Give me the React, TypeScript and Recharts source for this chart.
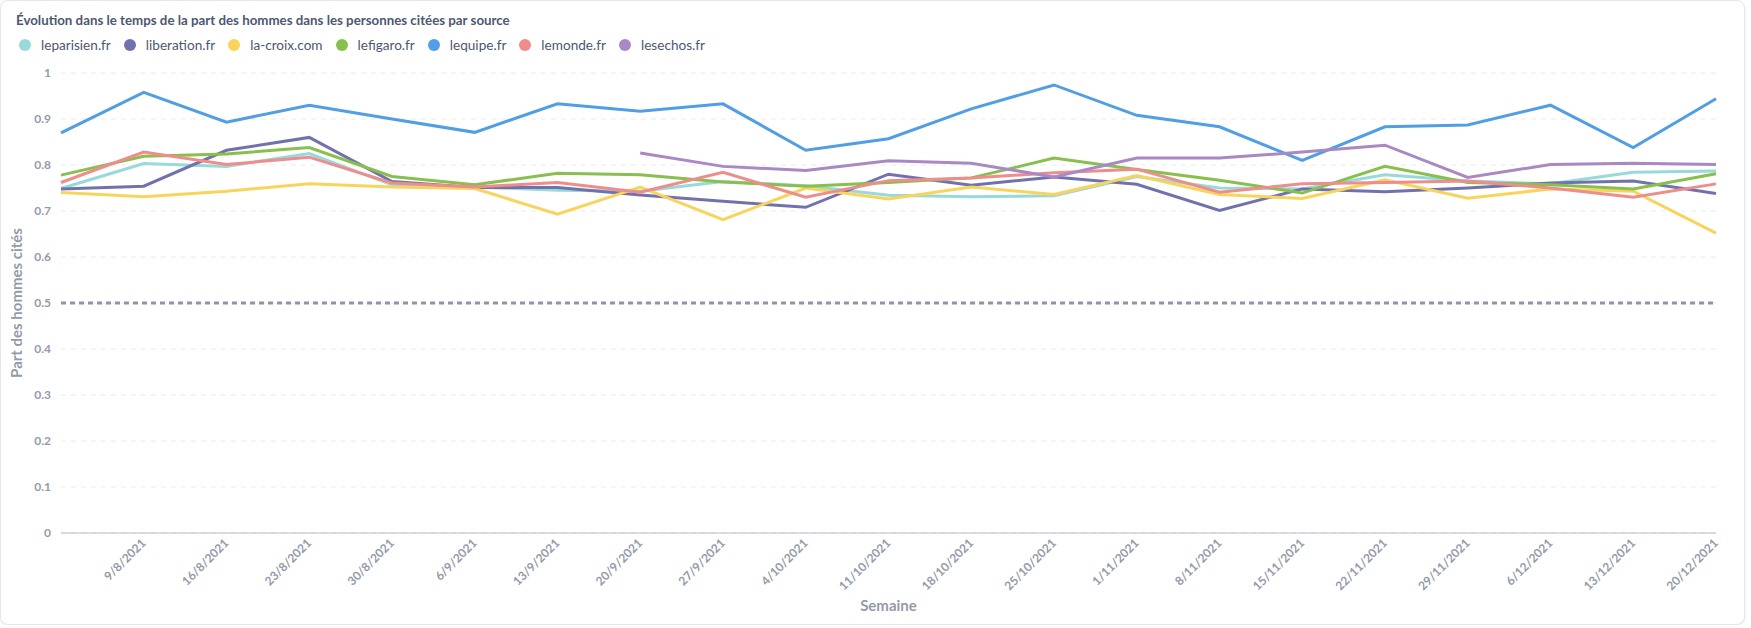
import React from 'react';
import { LineChart, Line, XAxis, YAxis, CartesianGrid, Legend, ReferenceLine } from 'recharts';

// semaines (la première n'a pas d'étiquette sur l'axe)
const weeks = [
  '2/8/2021', '9/8/2021', '16/8/2021', '23/8/2021', '30/8/2021', '6/9/2021', '13/9/2021',
  '20/9/2021', '27/9/2021', '4/10/2021', '11/10/2021', '18/10/2021', '25/10/2021', '1/11/2021',
  '8/11/2021', '15/11/2021', '22/11/2021', '29/11/2021', '6/12/2021', '13/12/2021', '20/12/2021',
];

const leparisien = [0.749, 0.803, 0.797, 0.825, 0.757, 0.752, 0.745, 0.743, 0.764, 0.755, 0.734, 0.731, 0.733, 0.775, 0.750, 0.748, 0.779, 0.765, 0.759, 0.784, 0.787];
const liberation = [0.748, 0.754, 0.832, 0.860, 0.764, 0.751, 0.751, 0.735, 0.721, 0.708, 0.780, 0.756, 0.774, 0.758, 0.701, 0.748, 0.742, 0.750, 0.761, 0.765, 0.738];
const lacroix = [0.740, 0.731, 0.743, 0.759, 0.752, 0.749, 0.693, 0.752, 0.681, 0.750, 0.726, 0.752, 0.736, 0.777, 0.736, 0.727, 0.768, 0.728, 0.748, 0.743, 0.652];
const lefigaro = [0.778, 0.819, 0.824, 0.838, 0.775, 0.757, 0.782, 0.779, 0.763, 0.754, 0.762, 0.772, 0.815, 0.790, 0.767, 0.739, 0.797, 0.762, 0.757, 0.748, 0.781];
const lequipe = [0.870, 0.958, 0.893, 0.930, 0.900, 0.871, 0.933, 0.917, 0.933, 0.832, 0.857, 0.922, 0.974, 0.908, 0.883, 0.810, 0.883, 0.887, 0.930, 0.838, 0.944];
const lemonde = [0.762, 0.828, 0.801, 0.817, 0.761, 0.752, 0.762, 0.741, 0.784, 0.730, 0.766, 0.772, 0.783, 0.791, 0.741, 0.759, 0.762, 0.765, 0.750, 0.730, 0.759];
const lesechos = [null, null, null, null, null, null, null, 0.826, 0.797, 0.788, 0.809, 0.804, 0.774, 0.815, 0.815, 0.828, 0.843, 0.773, 0.801, 0.804, 0.801];

const sourceKeys = ['leparisien', 'liberation', 'lacroix', 'lefigaro', 'lequipe', 'lemonde', 'lesechos'];
const sourceNames = ['leparisien.fr', 'liberation.fr', 'la-croix.com', 'lefigaro.fr', 'lequipe.fr', 'lemonde.fr', 'lesechos.fr'];
const sourceValues = [leparisien, liberation, lacroix, lefigaro, lequipe, lemonde, lesechos];

const yTicks = [0, 0.1, 0.2, 0.3, 0.4, 0.5, 0.6, 0.7, 0.8, 0.9, 1];
const goal = 0.5;

const COLORS = ['#98D9D9', '#7172AD', '#F9D45C', '#88BF4D', '#509EE3', '#EF8C8C', '#A989C5'];
const TEXT_DARK = '#4C5773';
const TEXT_MEDIUM = '#949AAB';
const FONT = 'Lato, "Noto Sans", sans-serif';

const data = weeks.map((week, i) => {
  const row: Record<string, string | number | null> = { week };
  sourceKeys.forEach((k, s) => {
    row[k] = sourceValues[s][i];
  });
  return row;
});

if (typeof document !== 'undefined') document.body.style.margin = '0';

const WeekTick = (props: any) => {
  const { x, y, payload } = props;
  if (payload.value === weeks[0]) return null;
  return (
    <g transform={`translate(${x},${y})`}>
      <text x={0} y={0} dy={4} textAnchor="end" transform="rotate(-45)"
        fill={TEXT_MEDIUM} fontSize={12} fontWeight={700} fontFamily={FONT}>
        {payload.value}
      </text>
    </g>
  );
};

// légende dans l'ordre des séries (recharts trie sinon par nom)
const SourceLegend = () => (
  <div style={{ display: 'flex', alignItems: 'center', fontFamily: FONT, fontSize: 13.6, color: TEXT_DARK, lineHeight: '20px' }}>
    {sourceNames.map((name, s) => (
      <div key={name} style={{ display: 'flex', alignItems: 'center', marginRight: 13 }}>
        <span style={{ width: 12, height: 12, borderRadius: 6, background: COLORS[s], marginRight: 10, display: 'inline-block' }} />
        <span>{name}</span>
      </div>
    ))}
  </div>
);

export default function App() {
  return (
    <div style={{
      position: 'relative', width: 1743, height: 623, background: '#fff',
      border: '1px solid #e4e6eb', borderRadius: 8, boxShadow: '0 1px 3px rgba(0,0,0,0.08)',
      fontFamily: FONT,
    }}>
      <div style={{ position: 'absolute', left: 15, top: 11, fontSize: 13.3, fontWeight: 700, color: TEXT_DARK, lineHeight: '16px', whiteSpace: 'nowrap' }}>
        Évolution dans le temps de la part des hommes dans les personnes citées par source
      </div>
      <LineChart width={1743} height={623} data={data} margin={{ top: 72, right: 28, left: 0, bottom: 21 }}>
        <CartesianGrid vertical={false} stroke="#e8eaee" strokeDasharray="5 5" />
        <XAxis
          dataKey="week"
          interval={0}
          height={70}
          tick={<WeekTick />}
          tickLine={false}
          axisLine={{ stroke: '#b8bbc3' }}
          label={{ value: 'Semaine', position: 'insideBottom', offset: -8, fill: TEXT_MEDIUM, fontSize: 15, fontWeight: 700, fontFamily: FONT }}
        />
        <YAxis
          width={60}
          domain={[0, 1]}
          ticks={yTicks}
          tickFormatter={(v: number) => String(Math.round(v * 10) / 10)}
          axisLine={false}
          tickLine={false}
          tickMargin={4}
          tick={{ fill: TEXT_MEDIUM, fontSize: 12, fontWeight: 700, fontFamily: FONT }}
          label={{ value: 'Part des hommes cités', angle: -90, position: 'insideLeft', offset: 16, fill: TEXT_MEDIUM, fontSize: 15, fontWeight: 700, fontFamily: FONT, style: { textAnchor: 'middle' } }}
        />
        <Legend
          verticalAlign="middle"
          align="center"
          content={<SourceLegend />}
          wrapperStyle={{ top: 34, left: 18, width: 'auto' }}
        />
        <ReferenceLine y={goal} stroke="#8f94ab" strokeWidth={3} strokeDasharray="5 4" />
        {sourceKeys.map((k, s) => (
          <Line
            key={k}
            type="linear"
            dataKey={k}
            name={sourceNames[s]}
            stroke={COLORS[s]}
            strokeWidth={3}
            dot={false}
            activeDot={false}
            connectNulls={false}
            isAnimationActive={false}
          />
        ))}
      </LineChart>
    </div>
  );
}
